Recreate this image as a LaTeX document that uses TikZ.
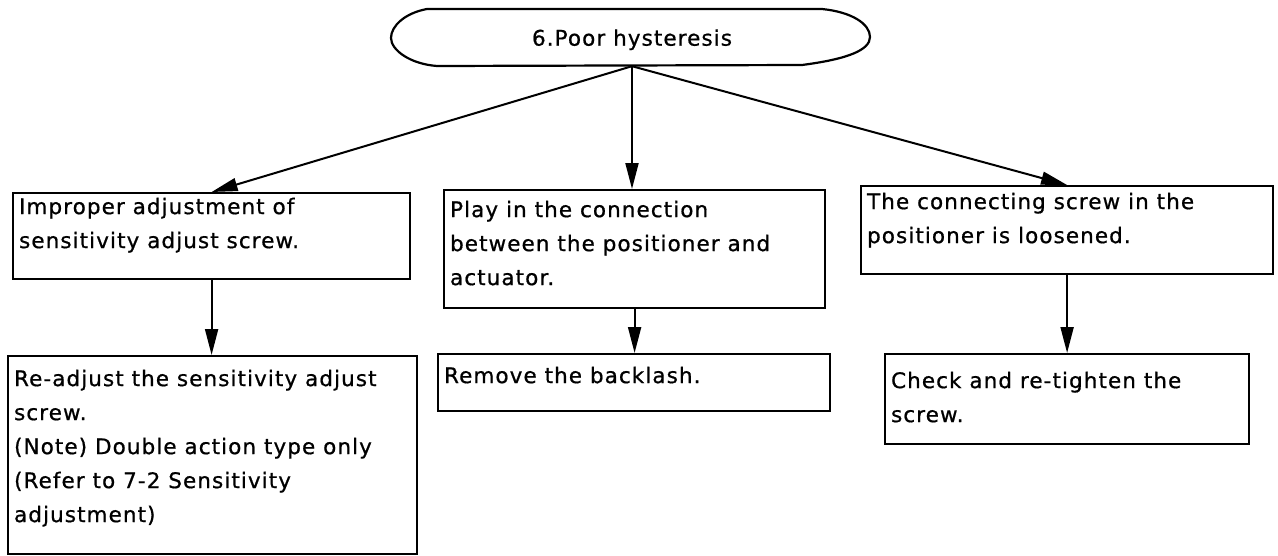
\documentclass[tikz,border=0pt]{standalone}
\usepackage{fontspec}
\setmainfont{DejaVu Sans}[LetterSpace=5, FakeBold=0.8]
\usetikzlibrary{arrows.meta}

% box body: width, height, first-baseline offset, lines
\newcommand\boxbody[4]{\parbox[b][#2][t]{#1}{\raggedright\rule{0pt}{#3}\ignorespaces#4}}

\begin{document}
\begin{tikzpicture}[x=1pt,y=-1pt,
  txt/.style={font=\fontsize{21.5}{34}\selectfont},
  stepbox/.style={txt, draw, line width=2.2pt, anchor=north west,
    inner xsep=6pt, inner ysep=0pt},
  arr/.style={line width=2pt, -{Triangle[length=26pt,width=13pt]}},
  outline/.style={line width=2.2pt, line join=round}
]
\useasboundingbox (0,0) rectangle (1278,555);

% title capsule
\draw[outline] (427,9) -- (822,9)
  .. controls (852,12) and (870,24) .. (870,37)
  .. controls (870,50) and (848,59) .. (802,65)
  -- (437,66)
  .. controls (410,64) and (391,50) .. (391,38)
  .. controls (391,26) and (405,13) .. (427,9) -- cycle;
\node[txt, minimum width=479pt, minimum height=57pt, text depth=0pt, inner sep=0pt]
  (hyst) at (632,37.5) {6.Poor hysteresis};

% causes
\node[stepbox] (b1) at (12,192) {\boxbody{385pt}{86pt}{21pt}{%
  Improper adjustment of\\sensitivity adjust screw.}};
\node[stepbox] (b2) at (443,189) {\boxbody{369pt}{118pt}{27pt}{%
  Play in the connection\\between the positioner and\\actuator.}};
\node[stepbox] (b3) at (860,185) {\boxbody{400pt}{88pt}{23pt}{%
  The connecting screw in the\\positioner is loosened.}};

% remedies
\node[stepbox] (r1) at (7,355) {\boxbody{397pt}{198pt}{30pt}{%
  Re-adjust the sensitivity adjust\\screw.\\(Note) Double action type only\\(Refer to 7-2 Sensitivity\\adjustment)}};
\node[stepbox] (r2) at (437,353) {\boxbody{380pt}{57pt}{29pt}{%
  Remove the backlash.}};
\node[stepbox] (r3) at (884,353) {\boxbody{352pt}{90pt}{34pt}{%
  Check and re-tighten the\\screw.}};

% connectors
\draw[arr] (hyst.south) -- (b1.north);
\draw[arr] (hyst.south) -- (hyst.south |- b2.north);
\draw[arr] (hyst.south) -- (b3.north);
\draw[arr] (b1.south) -- (b1.south |- r1.north);
\draw[arr] (b2.south) -- (b2.south |- r2.north);
\draw[arr] (b3.south) -- (b3.south |- r3.north);
\end{tikzpicture}
\end{document}
